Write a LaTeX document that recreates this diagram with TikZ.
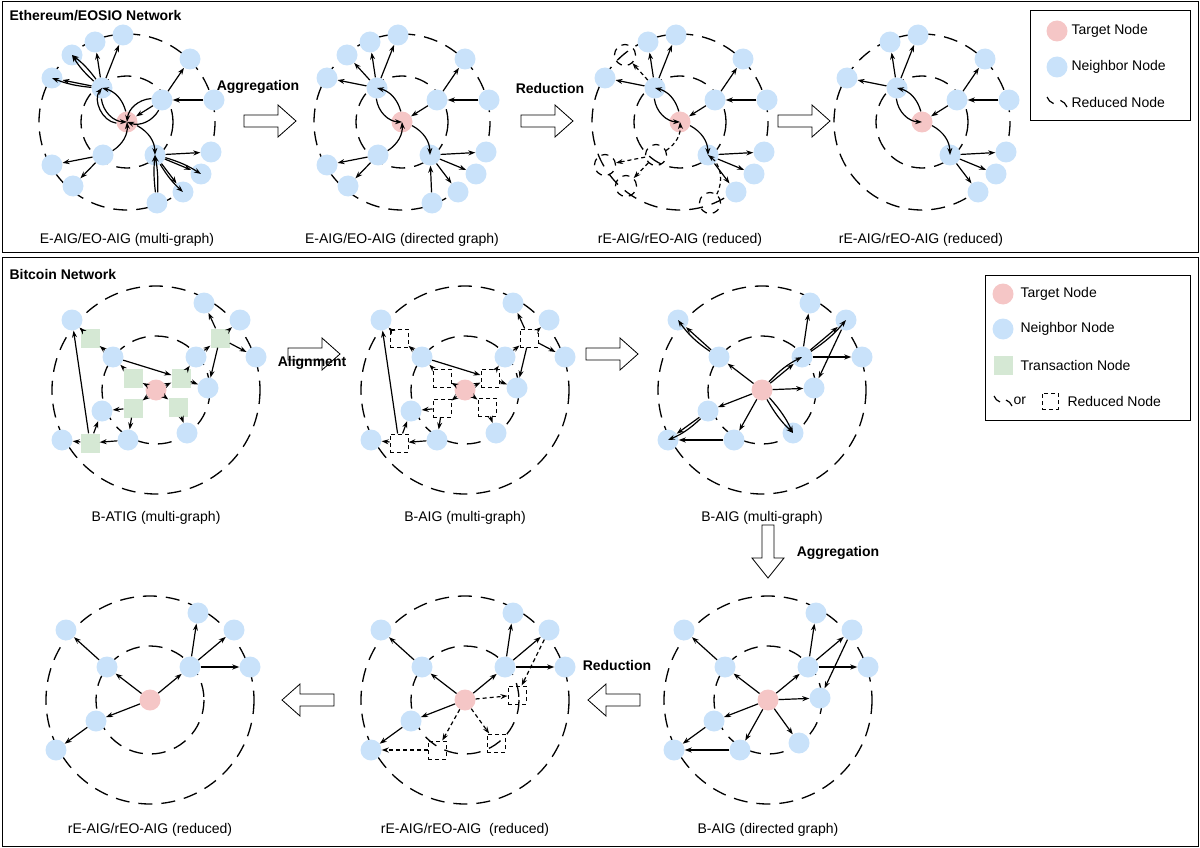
\documentclass[tikz,border=0pt]{standalone}
\usepackage{fontspec}
\setmainfont{Liberation Sans}
\usetikzlibrary{arrows.meta}
\definecolor{nbc}{HTML}{C9E2FA}
\definecolor{tgc}{HTML}{F5C6C6}
\definecolor{txc}{HTML}{D5E8D4}
\begin{document}
\begin{tikzpicture}[x=1pt,y=-1pt,
  nb/.style={circle,fill=nbc,minimum size=21pt,inner sep=0pt},
  tg/.style={circle,fill=tgc,minimum size=21pt,inner sep=0pt},
  tx/.style={rectangle,fill=txc,minimum size=19pt,inner sep=0pt},
  rd/.style={circle,draw,line width=1.2pt,dash pattern=on 7pt off 6pt,minimum size=21pt,inner sep=0pt},
  rs/.style={rectangle,draw,line width=1pt,dash pattern=on 4pt off 3pt,minimum size=18pt,inner sep=0pt},
  ed/.style={-{Stealth[length=7pt,width=5pt]},line width=1.2pt},
  de/.style={ed,dash pattern=on 4pt off 3pt},
  ring/.style={line width=1.3pt,dash pattern=on 14pt off 9pt},
  capt/.style={font=\fontsize{14}{16}\selectfont},
  lab/.style={font=\bfseries\fontsize{14}{16}\selectfont},
  ttl/.style={font=\bfseries\fontsize{14}{16}\selectfont,anchor=west},
  leg/.style={font=\fontsize{14}{16}\selectfont,anchor=west},
  big/.style={draw,line width=0.8pt,fill=white}]
\useasboundingbox (0,0) rectangle (1200,848);
\draw[line width=1pt] (2,2) rectangle (1198,252);
\draw[line width=1pt] (2,257) rectangle (1198,846);
\node[ttl] (t1) at (6,16) {Ethereum/EOSIO Network};
\node[ttl] (t2) at (6,274) {Bitcoin Network};

% ---------- Ethereum graphs ----------
\foreach \cx/\p/\mode in {127/e1/1,402/e2/2,680/e3/3,922/e4/4}{
\begin{scope}[shift={(\cx,122)},name prefix=\p-]
\draw[ring] (0,0) circle (88);
\draw[ring] (0,0) circle (46);
\node[tg] (T) at (0,0) {};
\node[nb] (A) at (-25,-34) {};
\node[nb] (a1) at (-32,-80) {};
\node[nb] (a2) at (-4,-87) {};
\node[nb] (B) at (35,-22) {};
\node[nb] (b1) at (63,-63) {};
\node[nb] (b2) at (87,-22) {};
\node[nb] (C) at (28,33) {};
\node[nb] (c1) at (84,30) {};
\node[nb] (c2) at (74,52) {};
\node[nb] (c3) at (56,70) {};
\ifnum\mode<3
\node[nb] (a3) at (-55,-67) {};
\node[nb] (a4) at (-75,-44) {};
\node[nb] (D) at (-24,33) {};
\node[nb] (d1) at (-75,43) {};
\node[nb] (d2) at (-54,64) {};
\node[nb] (c4) at (30,81) {};
\fi
\ifnum\mode=3
\node[rd] (a3) at (-55,-67) {};
\node[nb] (a4) at (-75,-44) {};
\node[rd] (D) at (-24,33) {};
\node[rd] (d1) at (-75,43) {};
\node[rd] (d2) at (-54,64) {};
\node[rd] (c4) at (30,81) {};
\fi
\ifnum\mode=4
\node[nb] (a4) at (-75,-44) {};
\fi
\draw[ed] (A) -- (a4);
\draw[ed] (A) -- (a1);
\draw[ed] (A) -- (a2);
\draw[ed] (B) -- (b1);
\draw[ed] (b2) -- (B);
\draw[ed] (C) -- (c1);
\draw[ed] (C) -- (c2);
\draw[ed] (C) -- (c3);
\draw[ed] (A) to[bend right=40] (T);
\draw[ed] (T) to[bend right=30] (A);
\draw[ed] (B) -- (T);
\draw[ed] (T) to[bend left=30] (C);
\ifnum\mode=1
\draw[ed] (A) to[bend left=8] (a3);
\draw[ed] (A) to[bend right=8] (a3);
\draw[ed] (A) to[bend left=8] (a4);
\draw[ed] (B) to[bend right=40] (T);
\draw[ed] (B) to[bend left=40] (T);
\draw[ed] (D) to[bend right=30] (T);
\draw[ed] (D) -- (d1);
\draw[ed] (D) -- (d2);
\draw[ed] (C) to[bend left=8] (c2);
\draw[ed] (C) to[bend right=8] (c3);
\draw[ed] (c4) to[bend left=6] (C);
\draw[ed] (c4) to[bend right=6] (C);
\draw[ed] (T) to[bend left=60] (A);
\fi
\ifnum\mode=2
\draw[ed] (A) -- (a3);
\draw[ed] (D) to[bend right=30] (T);
\draw[ed] (D) -- (d1);
\draw[ed] (D) -- (d2);
\draw[ed] (c4) -- (C);
\fi
\ifnum\mode=3
\draw[de] (A) -- (a3);
\draw[de] (D) to[bend right=30] (T);
\draw[de] (D) -- (d1);
\draw[de] (D) -- (d2);
\draw[de] (c4) to[bend right=40] (C);
\fi
\end{scope}}
\node[capt] (ce1) at (127,240) {E-AIG/EO-AIG (multi-graph)};
\node[capt] (ce2) at (402,240) {E-AIG/EO-AIG (directed graph)};
\node[capt] (ce3) at (680,240) {rE-AIG/rEO-AIG (reduced)};
\node[capt] (ce4) at (921,240) {rE-AIG/rEO-AIG (reduced)};
\node[lab] (l1) at (258,87) {Aggregation};
\node[lab] (l2) at (550,88) {Reduction};

% big hollow arrows
\foreach \x in {244,521,778}{
\draw[big] (\x,115) -- (\x+34,115) -- (\x+34,105) -- (\x+52,121) -- (\x+34,137) -- (\x+34,127) -- (\x,127) -- cycle;}
\foreach \x in {288,586}{
\draw[big] (\x,348) -- (\x+34,348) -- (\x+34,338) -- (\x+52,354) -- (\x+34,370) -- (\x+34,360) -- (\x,360) -- cycle;}
\draw[big] (762,525) -- (762,558) -- (752,558) -- (768,578) -- (784,558) -- (774,558) -- (774,525) -- cycle;
\foreach \x in {334,640}{
\draw[big] (\x,694) -- (\x-34,694) -- (\x-34,684) -- (\x-52,700) -- (\x-34,716) -- (\x-34,706) -- (\x,706) -- cycle;}

% ---------- Bitcoin graphs ----------
\foreach \cx/\cy/\p/\mode in {156/390/b1/1,465/390/b2/2,762/390/b3/3,768/700/b4/4,465/700/b5/5,150/700/b6/6}{
\begin{scope}[shift={(\cx,\cy)},name prefix=\p-]
\draw[ring] (0,0) circle (104);
\draw[ring] (0,0) circle (54);
\node[tg] (T) at (0,0) {};
\node[nb] (n1) at (-84,-70) {};
\node[nb] (n2) at (-43,-33) {};
\node[nb] (n3) at (48,-87) {};
\node[nb] (n4) at (84,-70) {};
\node[nb] (n5) at (100,-33) {};
\node[nb] (n6) at (40,-33) {};
\node[nb] (n8) at (-54,21) {};
\node[nb] (n9) at (-94,50) {};
\ifnum\mode<5
\node[nb] (n7) at (52,-2) {};
\node[nb] (n10) at (-28,50) {};
\node[nb] (n11) at (31,43) {};
\fi
\ifnum\mode=5
\node[rs] (n7) at (52,-5) {};
\node[rs] (n10) at (-28,50) {};
\node[rs] (n11) at (31,43) {};
\fi
\ifnum\mode<3
\ifnum\mode=1 \tikzset{txx/.style={tx}}\else\tikzset{txx/.style={rs}}\fi
\node[txx] (s1) at (-66,-52) {};
\node[txx] (s2) at (-23,-12) {};
\node[txx] (s3) at (25,-12) {};
\node[txx] (s4) at (64,-52) {};
\node[txx] (s5) at (-23,18) {};
\node[txx] (s6) at (22,17) {};
\node[txx] (s7) at (-66,53) {};
\draw[ed] (n2) -- (s1); \draw[ed] (s1) -- (n1);
\draw[ed] (n2) -- (s3);
\draw[ed] (s2) -- (n2); \draw[ed] (T) -- (s2);
\draw[ed] (T) -- (s3); \draw[ed] (s3) -- (n6); \draw[ed] (s3) -- (n7);
\draw[ed] (n6) -- (s4); \draw[ed] (s4) -- (n3); \draw[ed] (s4) -- (n4);
\draw[ed] (s4) -- (n5); \draw[ed] (s4) -- (n7);
\draw[ed] (T) -- (s5); \draw[ed] (s5) -- (n8); \draw[ed] (s5) -- (n10);
\draw[ed] (T) -- (s6); \draw[ed] (s6) -- (n11);
\draw[ed] (n10) -- (s7); \draw[ed] (s7) -- (n9); \draw[ed] (s7) -- (n8);
\draw[ed] (s7) -- (n1);
\fi
\ifnum\mode>2
\draw[ed] (n2) -- (n1); \draw[ed] (T) -- (n2);
\draw[ed] (T) -- (n6);
\draw[ed] (n6) -- (n3); \draw[ed] (n6) -- (n4); \draw[ed] (n6) -- (n5);
\draw[ed] (T) -- (n8); \draw[ed] (n8) -- (n9);
\fi
\ifnum\mode=3
\draw[ed] (n2) to[bend left=10] (n1);
\draw[ed] (T) to[bend left=10] (n6);
\draw[ed] (n6) to[bend right=8] (n4);
\draw[ed] (T) -- (n7); \draw[ed] (n4) -- (n7);
\draw[ed] (n8) to[bend left=10] (n9);
\draw[ed] (T) -- (n10); \draw[ed] (n10) -- (n9);
\draw[ed] (T) to[bend left=8] (n11); \draw[ed] (T) to[bend right=8] (n11);
\fi
\ifnum\mode=4
\draw[ed] (T) -- (n7); \draw[ed] (n4) -- (n7);
\draw[ed] (T) -- (n10); \draw[ed] (n10) -- (n9);
\draw[ed] (T) -- (n11);
\fi
\ifnum\mode=5
\draw[de] (T) -- (n7); \draw[de] (n4) -- (n7);
\draw[de] (T) -- (n10); \draw[de] (n10) -- (n9);
\draw[de] (T) -- (n11);
\fi
\end{scope}}
\node[capt] (cb1) at (156,518) {B-ATIG (multi-graph)};
\node[capt] (cb2) at (465,518) {B-AIG (multi-graph)};
\node[capt] (cb3) at (762,518) {B-AIG (multi-graph)};
\node[capt] (cb4) at (768,830) {B-AIG (directed graph)};
\node[capt] (cb5) at (465,830) {rE-AIG/rEO-AIG\ \ (reduced)};
\node[capt] (cb6) at (150,830) {rE-AIG/rEO-AIG (reduced)};
\node[lab] (l3) at (312,363) {Alignment};
\node[lab] (l4) at (838,553) {Aggregation};
\node[lab] (l5) at (617,665) {Reduction};

% ---------- legends ----------
\draw[line width=0.8pt] (1030,10) rectangle (1190,120);
\node[tg] (lt1) at (1057,31) {}; \node[leg] (lx1) at (1068,31) {Target Node};
\node[nb] (ln1) at (1057,67) {}; \node[leg] (lx2) at (1068,67) {Neighbor Node};
\draw[line width=1.2pt] (1047,97) arc (160:110:11);
\draw[line width=1.2pt] (1067,107) arc (-20:-70:11);
\node[leg] (lx3) at (1068,102) {Reduced Node};

\draw[line width=0.8pt] (985,275) rectangle (1190,420);
\node[tg] (mt1) at (1003,294) {}; \node[leg] (mx1) at (1017,294) {Target Node};
\node[nb] (mn1) at (1003,329) {}; \node[leg] (mx2) at (1017,329) {Neighbor Node};
\node[tx] (ms1) at (1003,365) {}; \node[leg] (mx3) at (1017,365) {Transaction Node};
\draw[line width=1.2pt] (994,396) arc (160:110:10);
\draw[line width=1.2pt] (1012,406) arc (-20:-70:10);
\node[leg] (mor) at (1010,401) {or};
\node[rs,minimum size=16pt] (mr) at (1050,401) {};
\node[leg] (mx4) at (1064,401) {Reduced Node};
\end{tikzpicture}
\end{document}
